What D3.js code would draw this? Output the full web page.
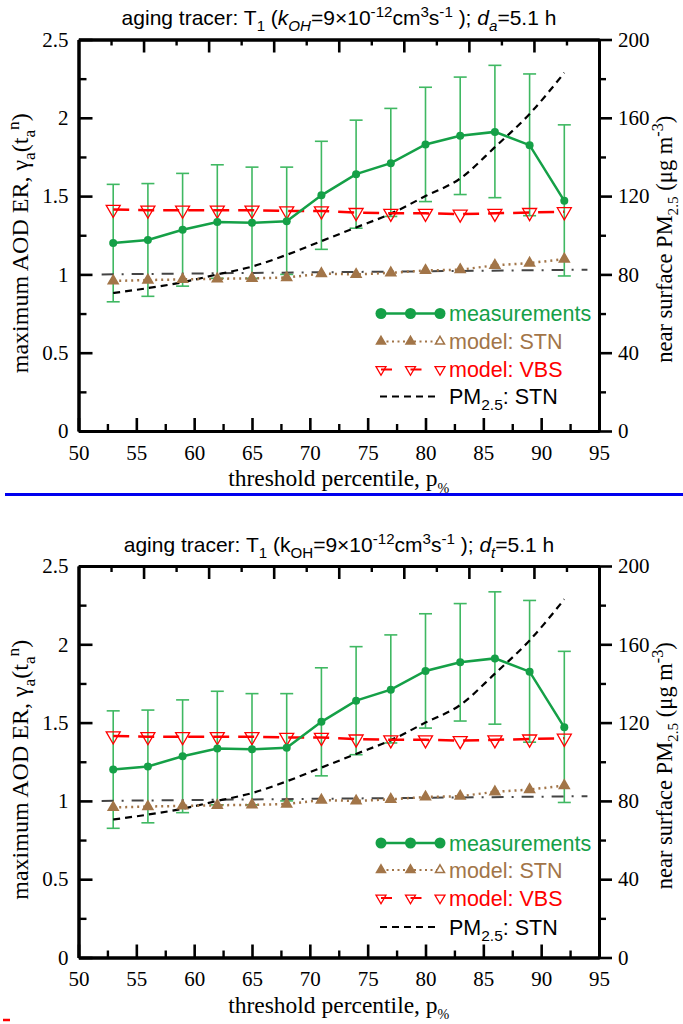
<!DOCTYPE html>
<html><head><meta charset="utf-8">
<script src="https://cdn.jsdelivr.net/npm/d3@7"></script>
<style>html,body{margin:0;padding:0;background:#fff;}svg{display:block;}</style>
</head><body>
<script>
// ---- data ----
const percentiles = [53,56,59,62,65,68,71,74,77,80,83,86,89,92];
const measMean = [1.20,1.22,1.285,1.335,1.33,1.34,1.505,1.64,1.71,1.83,1.885,1.91,1.825,1.47];
const measHigh = [1.575,1.58,1.645,1.70,1.685,1.685,1.85,1.985,2.06,2.195,2.26,2.335,2.28,1.955];
const measLow  = [0.825,0.86,0.925,0.975,0.975,1.0,1.16,1.295,1.37,1.465,1.51,1.49,1.375,0.99];
const modelSTN = [0.958,0.964,0.968,0.972,0.975,0.98,1.005,1.0,1.01,1.025,1.03,1.058,1.072,1.098];
const modelVBS = [1.415,1.41,1.41,1.41,1.41,1.405,1.405,1.395,1.39,1.39,1.385,1.39,1.395,1.40];
const pm25STN  = [70.5,73,76,80,84,90,97,104,111,120,129,145,162,183];
const refX = [52,94];
const refY = [1.0,1.03];
const xTicks = [50,55,60,65,70,75,80,85,90,95];
const xMinor = [52.5,57.5,62.5,67.5,72.5,77.5,82.5,87.5,92.5];
const yLeftTicks = [0,0.5,1,1.5,2,2.5];
const yLeftMinor = [0.25,0.75,1.25,1.75,2.25];
const yRightTicks = [0,40,80,120,160,200];
const yRightMinor = [20,60,100,140,180];
const legendLabels = ["measurements","model: STN","model: VBS","PM2.5: STN"];

// ---- layout ----
const W=683,H=1024;
const X0=78.5,X1=599,PH=391.5;
const SERIF="'Liberation Serif','Times New Roman',serif";
const SANS="'Liberation Sans',Arial,sans-serif";
const GREEN="#15a047",GREEN_E="#3fb862",BROWN="#a27548",RED="#ff0000";

const svg=d3.select("body").append("svg").attr("width",W).attr("height",H);

function rich(sel,segs,size){
  let off=0;
  segs.forEach(s=>{
    const small=s.sub||s.sup;
    const target=s.sub?size*0.28:(s.sup?-size*0.38:0);
    const ts=sel.append("tspan").text(s.t).attr("font-size",small?size*(s.sc||0.72):size);
    if(target-off!==0) ts.attr("dy",target-off);
    off=target;
    if(s.i) ts.attr("font-style","italic");
  });
}

const data=percentiles.map((p,i)=>({p,m:measMean[i],hi:measHigh[i],lo:measLow[i],stn:modelSTN[i],vbs:modelVBS[i],pm:pm25STN[i]}));

function tri(cx,cy,w,down){
  const h=w*0.866;
  if(!down) return `M${cx},${cy-h*2/3}L${cx+w/2},${cy+h/3}L${cx-w/2},${cy+h/3}Z`;
  return `M${cx},${cy+h*2/3}L${cx+w/2},${cy-h/3}L${cx-w/2},${cy-h/3}Z`;
}

function panel(top,titleSegs,ly){
  const g=svg.append("g").attr("transform",`translate(0,${top})`);
  const x=d3.scaleLinear().domain([50,95]).range([X0,X1]);
  const yL=d3.scaleLinear().domain([0,2.5]).range([PH,0]);
  const yR=d3.scaleLinear().domain([0,200]).range([PH,0]);
  const xTop=d3.scaleLinear().domain([0,16]).range([X0,X1]);

  // title
  const t=g.append("text").attr("x",339).attr("y",-14.3).attr("text-anchor","middle")
    .attr("font-family",SANS).attr("font-size",21).attr("fill","#000");
  rich(t,titleSegs,21);

  // error bars
  const eb=g.append("g").attr("stroke",GREEN_E).attr("stroke-width",1.6).attr("fill","none");
  data.forEach(d=>{
    eb.append("line").attr("x1",x(d.p)).attr("x2",x(d.p)).attr("y1",yL(d.lo)).attr("y2",yL(d.hi));
    eb.append("line").attr("x1",x(d.p)-6.5).attr("x2",x(d.p)+6.5).attr("y1",yL(d.lo)).attr("y2",yL(d.lo));
    eb.append("line").attr("x1",x(d.p)-6.5).attr("x2",x(d.p)+6.5).attr("y1",yL(d.hi)).attr("y2",yL(d.hi));
  });

  // reference dash-dot line
  g.append("path").attr("d",d3.line()(refX.map((v,i)=>[x(v),yL(refY[i])])))
    .attr("stroke","#444").attr("stroke-width",2).attr("fill","none").attr("stroke-dasharray","12,8,2,8");

  // PM2.5 line
  g.append("path").datum(data).attr("d",d3.line().x(d=>x(d.p)).y(d=>yR(d.pm)).curve(d3.curveMonotoneX))
    .attr("stroke","#000").attr("stroke-width",2.2).attr("fill","none").attr("stroke-dasharray","7,5");

  // STN
  g.append("path").datum(data).attr("d",d3.line().x(d=>x(d.p)).y(d=>yL(d.stn)))
    .attr("stroke",BROWN).attr("stroke-width",2.5).attr("fill","none").attr("stroke-dasharray","2,4");
  g.append("g").selectAll("path").data(data).join("path")
    .attr("d",d=>tri(x(d.p),yL(d.stn),10,false)).attr("fill",BROWN).attr("stroke",BROWN).attr("stroke-width",1.5);

  // VBS
  g.append("path").datum(data).attr("d",d3.line().x(d=>x(d.p)).y(d=>yL(d.vbs)))
    .attr("stroke",RED).attr("stroke-width",2.5).attr("fill","none").attr("stroke-dasharray","16,9");
  g.append("g").selectAll("path").data(data).join("path")
    .attr("d",d=>tri(x(d.p),yL(d.vbs),14,true)).attr("fill","none").attr("stroke",RED).attr("stroke-width",1.3);

  // measurements
  g.append("path").datum(data).attr("d",d3.line().x(d=>x(d.p)).y(d=>yL(d.m)))
    .attr("stroke",GREEN).attr("stroke-width",2.5).attr("fill","none");
  g.append("g").selectAll("circle").data(data).join("circle")
    .attr("cx",d=>x(d.p)).attr("cy",d=>yL(d.m)).attr("r",4).attr("fill",GREEN);

  // axes
  const styleAx=(a,w)=>{a.select(".domain").attr("stroke","#000").attr("stroke-width",3);
    a.selectAll(".tick line").attr("stroke","#000").attr("stroke-width",w);
    a.selectAll("text").attr("font-family",SERIF).attr("font-size",21).attr("fill","#000");};
  const ab=g.append("g").attr("transform",`translate(0,${PH})`)
    .call(d3.axisBottom(x).tickValues(xTicks).tickSize(-13).tickSizeOuter(0).tickPadding(14).tickFormat(d3.format("d")));
  styleAx(ab,2.6);
  const abm=g.append("g").attr("transform",`translate(0,${PH})`)
    .call(d3.axisBottom(x).tickValues(xMinor).tickSize(-7).tickSizeOuter(0).tickFormat(""));
  styleAx(abm,2.4);
  const at=g.append("g").call(d3.axisTop(xTop).tickValues(d3.range(2,16,2)).tickSize(-13).tickSizeOuter(0).tickFormat(""));
  styleAx(at,2.6);
  const atm=g.append("g").call(d3.axisTop(xTop).tickValues(d3.range(1,16,2)).tickSize(-6).tickSizeOuter(0).tickFormat(""));
  styleAx(atm,2.4);
  const al=g.append("g").attr("transform",`translate(${X0},0)`)
    .call(d3.axisLeft(yL).tickValues(yLeftTicks).tickSize(-14).tickSizeOuter(0).tickPadding(10).tickFormat(d3.format("")));
  styleAx(al,2.6);
  const alm=g.append("g").attr("transform",`translate(${X0},0)`)
    .call(d3.axisLeft(yL).tickValues(yLeftMinor).tickSize(-8).tickSizeOuter(0).tickFormat(""));
  styleAx(alm,2.4);
  const ar=g.append("g").attr("transform",`translate(${X1},0)`)
    .call(d3.axisRight(yR).tickValues(yRightTicks).tickSize(13).tickSizeOuter(0).tickPadding(6).tickFormat(d3.format("d")));
  styleAx(ar,2.6);
  const arm=g.append("g").attr("transform",`translate(${X1},0)`)
    .call(d3.axisRight(yR).tickValues(yRightMinor).tickSize(7).tickSizeOuter(0).tickFormat(""));
  styleAx(arm,2.4);

  // axis titles
  const xt=g.append("text").attr("x",(X0+X1)/2).attr("y",PH+55).attr("text-anchor","middle")
    .attr("font-family",SERIF).attr("font-size",23.5);
  rich(xt,[{t:"threshold percentile, p"},{t:"%",sub:true,sc:0.6}],23.5);
  const yt=g.append("text").attr("transform",`translate(28,${PH/2+8}) rotate(-90)`).attr("text-anchor","middle")
    .attr("font-family",SERIF).attr("font-size",24);
  rich(yt,[{t:"maximum AOD ER, γ"},{t:"a",sub:true},{t:"(t"},{t:"a",sub:true},{t:"n",sup:true},{t:")"}],24);
  const yr=g.append("text").attr("transform",`translate(672,${PH/2+4}) rotate(-90)`).attr("text-anchor","middle")
    .attr("font-family",SERIF).attr("font-size",22.5);
  rich(yr,[{t:"near surface PM"},{t:"2.5",sub:true,sc:0.68},{t:" (μg m"},{t:"-3",sup:true},{t:")"}],22.5);

  // legend
  const lx=[381,410.5,440];
  const lg=g.append("g");
  // measurements
  lg.append("line").attr("x1",lx[0]).attr("x2",lx[2]).attr("y1",ly[0]).attr("y2",ly[0]).attr("stroke",GREEN).attr("stroke-width",2.5);
  lx.forEach(v=>lg.append("circle").attr("cx",v).attr("cy",ly[0]).attr("r",5.5).attr("fill",GREEN));
  // STN
  lg.append("line").attr("x1",lx[0]).attr("x2",lx[2]).attr("y1",ly[1]).attr("y2",ly[1]).attr("stroke",BROWN).attr("stroke-width",2).attr("stroke-dasharray","2,3.5");
  lx.forEach((v,i)=>lg.append("path").attr("d",tri(v,ly[1],9,false)).attr("fill",i<2?BROWN:"#fff").attr("stroke",BROWN).attr("stroke-width",1.5));
  // VBS
  lg.append("line").attr("x1",lx[0]).attr("x2",lx[2]).attr("y1",ly[2]).attr("y2",ly[2]).attr("stroke",RED).attr("stroke-width",2.2).attr("stroke-dasharray","11,18.5");
  lx.forEach(v=>lg.append("path").attr("d",tri(v,ly[2],10,true)).attr("fill","none").attr("stroke",RED).attr("stroke-width",1.3));
  // PM
  lg.append("line").attr("x1",lx[0]-1).attr("x2",lx[2]-1).attr("y1",ly[3]).attr("y2",ly[3]).attr("stroke","#000").attr("stroke-width",2).attr("stroke-dasharray","7,5");
  const cols=[GREEN,BROWN,RED,"#000"];
  legendLabels.forEach((lab,i)=>{
    const tx=lg.append("text").attr("x",449).attr("y",ly[i]).attr("dy","0.36em")
      .attr("font-family",SANS).attr("font-size",21.5).attr("fill",cols[i]);
    if(lab.startsWith("PM2.5")) rich(tx,[{t:"PM"},{t:"2.5",sub:true},{t:": STN"}],21.5);
    else tx.text(lab);
  });
}

panel(39.5,[{t:"aging tracer: T"},{t:"1",sub:true},{t:" ("},{t:"k",i:true},{t:"OH",sub:true,i:true},{t:"=9×10"},{t:"-12",sup:true},{t:"cm"},{t:"3",sup:true},{t:"s"},{t:"-1",sup:true},{t:" ); "},{t:"d",i:true},{t:"a",sub:true,i:true},{t:"=5.1 h"}],[274,302,330,357]);
panel(566,[{t:"aging tracer: T"},{t:"1",sub:true},{t:" (k"},{t:"OH",sub:true},{t:"=9×10"},{t:"-12",sup:true},{t:"cm"},{t:"3",sup:true},{t:"s"},{t:"-1",sup:true},{t:" ); "},{t:"d",i:true},{t:"t",sub:true,i:true},{t:"=5.1 h"}],[277,304,332,361]);

// separators
svg.append("line").attr("x1",5).attr("x2",683).attr("y1",494.5).attr("y2",494.5).attr("stroke","#0000ee").attr("stroke-width",3);
svg.append("line").attr("x1",3).attr("x2",10).attr("y1",1020).attr("y2",1020).attr("stroke",RED).attr("stroke-width",2.5);
</script>
</body></html>
